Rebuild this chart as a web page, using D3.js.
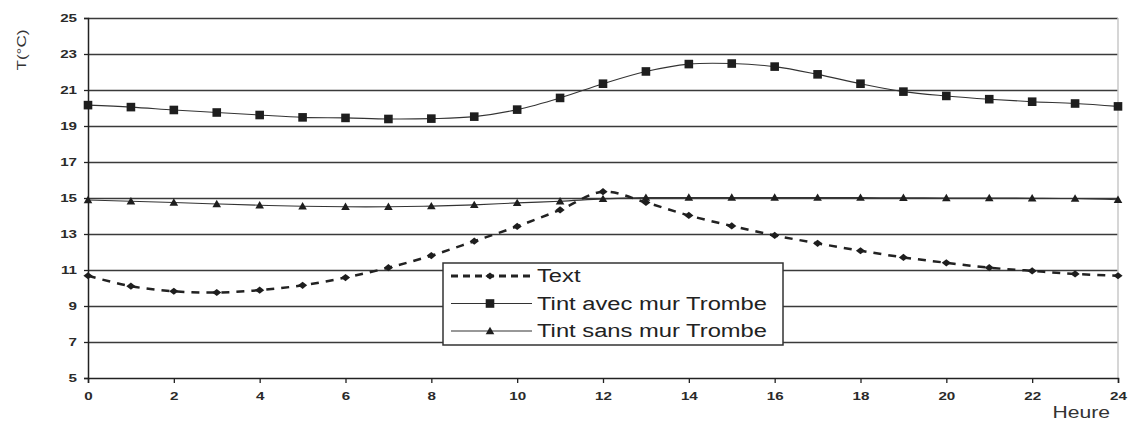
<!DOCTYPE html>
<html>
<head>
<meta charset="utf-8">
<script src="https://cdn.jsdelivr.net/npm/d3@7"></script>
<style>
  body { margin: 0; background: #fff; }
  text { font-family: "Liberation Sans", Arial, sans-serif; }
</style>
</head>
<body>
<svg id="chart" width="1134" height="424"></svg>
<script>
// values
var hours = [0,1,2,3,4,5,6,7,8,9,10,11,12,13,14,15,16,17,18,19,20,21,22,23,24];
var tExt = [10.68,10.1,9.82,9.75,9.88,10.15,10.58,11.13,11.8,12.6,13.42,14.34,15.35,14.75,14.03,13.45,12.92,12.48,12.07,11.7,11.4,11.13,10.95,10.78,10.68];
var tAvec = [20.16,20.05,19.89,19.75,19.61,19.48,19.45,19.39,19.41,19.52,19.91,20.56,21.35,22.03,22.44,22.47,22.3,21.87,21.35,20.91,20.67,20.49,20.35,20.25,20.09];
var tSans = [14.89,14.82,14.75,14.67,14.6,14.54,14.51,14.51,14.55,14.62,14.73,14.82,14.95,15.02,15.03,15.03,15.03,15.02,15.02,15.01,15.0,15.0,14.99,14.97,14.9];
var seriesNames = ["Text", "Tint avec mur Trombe", "Tint sans mur Trombe"];
var yTicks = [5,7,9,11,13,15,17,19,21,23,25];
var xTicks = [0,2,4,6,8,10,12,14,16,18,20,22,24];

var svg = d3.select("#chart"),
    margin = {left: 88, top: 18, right: 16, bottom: 46},
    width = 1118 - margin.left,
    height = 378 - margin.top,
    stretch = 1.32,
    g = svg.append("g").attr("transform", "translate(" + margin.left + "," + margin.top + ")");

var x = d3.scaleLinear().domain([0, 24]).range([0, width]);
var y = d3.scaleLinear().domain([5, 25]).range([height, 0]);

// horizontal grid
g.append("g")
    .call(d3.axisLeft(y).tickValues(yTicks.slice(1)).tickSize(-width).tickFormat(""))
    .call(function(s) { s.select(".domain").remove(); })
    .selectAll("line").attr("stroke", "#3a3a3a").attr("stroke-width", 1.3);

// right border
g.append("line")
    .attr("x1", width).attr("x2", width).attr("y1", 0).attr("y2", height)
    .attr("stroke", "#c8c8c8").attr("stroke-width", 1.5);

// axes
var yAxis = g.append("g").call(d3.axisLeft(y).tickValues(yTicks).tickSize(4).tickPadding(7));
var xAxis = g.append("g").attr("transform", "translate(0," + height + ")")
    .call(d3.axisBottom(x).tickValues(xTicks).tickSize(5).tickPadding(9));

[yAxis, xAxis].forEach(function(a) {
    a.select(".domain").attr("stroke", "#222").attr("stroke-width", 1.5);
    a.selectAll(".tick line").attr("stroke", "#222").attr("stroke-width", 1.3);
    a.selectAll("text").attr("font-size", 11.5).attr("font-weight", "bold")
        .attr("fill", "#2a2a2a").attr("font-family", "Liberation Sans, Arial, sans-serif");
});
yAxis.selectAll("text").attr("x", -11 / stretch).attr("transform", "scale(" + stretch + ",1)");
xAxis.selectAll("text").attr("transform", "scale(" + stretch + ",1)");

// axis titles
svg.append("text")
    .attr("transform", "translate(26,50) rotate(-90) scale(" + stretch + ",1)")
    .attr("text-anchor", "middle")
    .attr("font-size", 13).attr("fill", "#333")
    .text("T(°C)");
svg.append("text")
    .attr("transform", "translate(1110,418) scale(" + stretch + ",1)")
    .attr("text-anchor", "end")
    .attr("font-size", 16).attr("fill", "#333")
    .text("Heure");

// lines
var line = function(vals) {
    return d3.line()
        .x(function(d, i) { return x(hours[i]); })
        .y(function(d) { return y(d); })
        .curve(d3.curveCatmullRom.alpha(0.5))(vals);
};

g.append("path").attr("d", line(tAvec)).attr("fill", "none").attr("stroke", "#333").attr("stroke-width", 1.1);
g.append("path").attr("d", line(tSans)).attr("fill", "none").attr("stroke", "#333").attr("stroke-width", 1.1);
g.append("path").attr("d", line(tExt)).attr("fill", "none").attr("stroke", "#222")
    .attr("stroke-width", 2.5).attr("stroke-dasharray", "8,7");

// marker shapes
var squarePath = "M-4.3,-4.3H4.3V4.3H-4.3Z";
var triPath = "M0,-4.2L4.3,3.2H-4.3Z";
var diamondPath = "M0,-3.6L4.6,0L0,3.6L-4.6,0Z";
var markers = [diamondPath, squarePath, triPath];
var allSeries = [tExt, tAvec, tSans];

allSeries.forEach(function(vals, k) {
    g.append("g").selectAll("path")
        .data(vals)
        .enter().append("path")
        .attr("d", markers[k])
        .attr("transform", function(d, i) { return "translate(" + x(hours[i]) + "," + y(d) + ")"; })
        .attr("fill", "#1e1e1e");
});

// legend
var legend = svg.append("g").attr("transform", "translate(443,263)");
legend.append("rect")
    .attr("width", 340).attr("height", 82)
    .attr("fill", "#fff").attr("stroke", "#333").attr("stroke-width", 1.5);

var item = legend.selectAll(".item")
    .data(seriesNames)
    .enter().append("g")
    .attr("class", "item")
    .attr("transform", function(d, i) { return "translate(0," + (13 + i * 27.5) + ")"; });

item.append("line")
    .attr("x1", 8).attr("x2", 89).attr("y1", 0).attr("y2", 0)
    .attr("stroke", function(d, i) { return i === 0 ? "#222" : "#333"; })
    .attr("stroke-width", function(d, i) { return i === 0 ? 3 : 1.1; })
    .attr("stroke-dasharray", function(d, i) { return i === 0 ? "7,5" : null; });
item.append("path")
    .attr("d", function(d, i) { return markers[i]; })
    .attr("transform", "translate(47,0)")
    .attr("fill", "#1e1e1e");
item.append("text")
    .attr("transform", "translate(94,0) scale(" + stretch + ",1)")
    .attr("dy", "0.35em")
    .attr("font-size", 18).attr("fill", "#222")
    .text(function(d) { return d; });
</script>
</body>
</html>
